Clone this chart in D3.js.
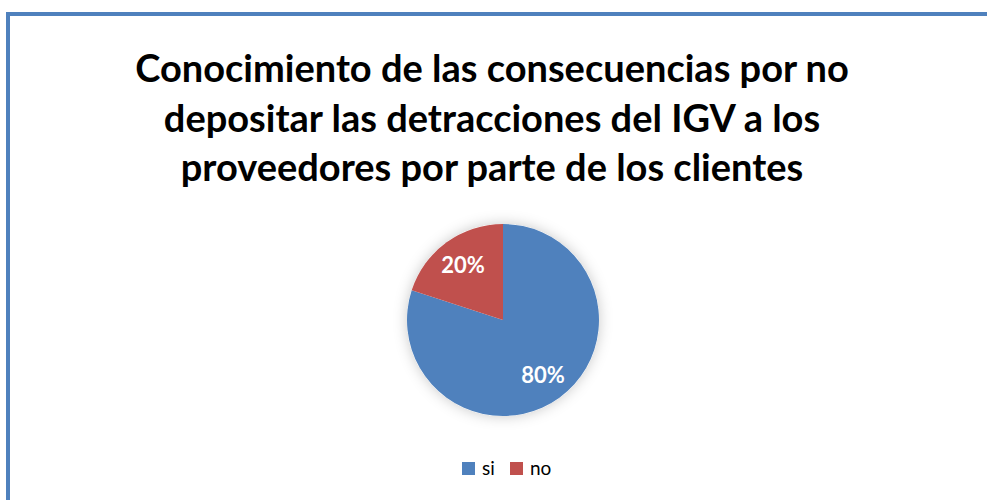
<!DOCTYPE html>
<html>
<head>
<meta charset="utf-8">
<script src="https://cdn.jsdelivr.net/npm/d3@7"></script>
<style>
  body { margin: 0; background: #fff; }
  svg { display: block; font-family: Lato, "Open Sans", sans-serif; }
</style>
</head>
<body>
<svg class="chart"></svg>
<script>
// Chart data
const categories = ['si', 'no'];
const values = [80, 20];
const colors = ['#4F81BD', '#C0504D'];
const titleLines = [
  'Conocimiento de las consecuencias por no',
  'depositar las detracciones del IGV a los',
  'proveedores por parte de los clientes'
];

const width = 987, height = 500;
const svg = d3.select('.chart').attr('width', width).attr('height', height);

// Soft shadow behind the pie
const defs = svg.append('defs');
const f = defs.append('filter').attr('id', 'shadow')
  .attr('x', '-30%').attr('y', '-30%').attr('width', '160%').attr('height', '160%');
f.append('feDropShadow').attr('dx', 0).attr('dy', 0).attr('stdDeviation', 7)
  .attr('flood-color', '#000').attr('flood-opacity', 0.22);

// Chart area border (runs off the window on the right and bottom)
svg.append('rect')
  .attr('x', 8).attr('y', 14)
  .attr('width', width + 20).attr('height', height + 20)
  .attr('fill', 'none').attr('stroke', '#4F81BD').attr('stroke-width', 4);

// Title
const title = svg.append('text')
  .attr('text-anchor', 'middle')
  .attr('font-weight', 'bold')
  .attr('font-size', 38)
  .attr('fill', '#000');
title.selectAll('tspan')
  .data(titleLines)
  .enter()
  .append('tspan')
  .attr('x', 492)
  .attr('y', (d, i) => 82 + i * 49.5)
  .text(d => d);

// Pie
const cx = 503, cy = 320, r = 96;
const pie = d3.pie().sort(null).value(d => d)(values);
const arc = d3.arc().innerRadius(0).outerRadius(r);
const labelArc = d3.arc().innerRadius(r * 0.71).outerRadius(r * 0.71);

const g = svg.append('g').attr('transform', `translate(${cx},${cy})`);
g.append('circle').attr('r', r).attr('fill', '#fff').attr('filter', 'url(#shadow)');
g.selectAll('path')
  .data(pie)
  .enter()
  .append('path')
  .attr('d', arc)
  .attr('fill', (d, i) => colors[i]);

g.selectAll('.lbl')
  .data(pie)
  .enter()
  .append('text')
  .attr('class', 'lbl')
  .attr('transform', d => `translate(${labelArc.centroid(d)})`)
  .attr('text-anchor', 'middle')
  .attr('dy', '0.36em')
  .attr('font-weight', 'bold')
  .attr('font-size', 22)
  .attr('fill', '#fff')
  .text(d => d.data + '%');

// Legend
const legend = svg.append('g').attr('transform', 'translate(462,462)');
const item = legend.selectAll('g')
  .data(categories)
  .enter()
  .append('g')
  .attr('transform', (d, i) => `translate(${i * 48},0)`);
item.append('rect').attr('width', 13).attr('height', 13).attr('fill', (d, i) => colors[i]);
item.append('text').attr('x', 20).attr('y', 13).attr('font-size', 19).attr('fill', '#000').text(d => d);
</script>
</body>
</html>
